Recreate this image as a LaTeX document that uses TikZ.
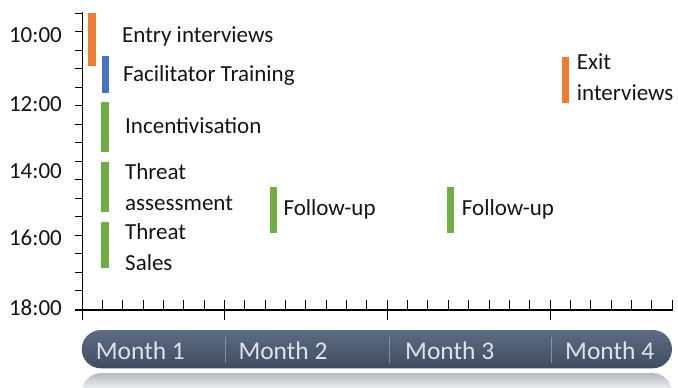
\documentclass[tikz,border=0pt]{standalone}
\usepackage{fontspec}
\setmainfont{Carlito}
\usepackage{tikz}

\definecolor{entryorange}{RGB}{237,125,49}
\definecolor{trainblue}{RGB}{68,114,196}
\definecolor{taskgreen}{RGB}{112,173,71}
\definecolor{monthtop}{RGB}{94,108,131}
\definecolor{monthbot}{RGB}{62,75,97}
\definecolor{monthtext}{RGB}{222,226,232}
\definecolor{reflgray}{RGB}{178,185,195}
\definecolor{sepgray}{RGB}{130,144,165}

\tikzstyle{bar} = [rectangle, inner sep=0pt, minimum width=8pt, anchor=north west]
\tikzstyle{task} = [inner sep=0pt, anchor=base west, align=left, text=black!92, font=\fontsize{23}{31}\selectfont]
\tikzstyle{hour} = [inner sep=0pt, anchor=base east, text=black!92, font=\fontsize{23}{28}\selectfont]
\tikzstyle{month} = [inner sep=0pt, anchor=base west, text=monthtext, font=\fontsize{25.5}{30}\selectfont]
\tikzstyle{axis} = [line width=1.3pt, black]
\tikzstyle{tick} = [line width=1pt, black]

\begin{document}
\begin{tikzpicture}[x=1pt, y=-1pt]
  \useasboundingbox (0,0) rectangle (678,388);

  % axes
  \coordinate (ytop) at (82.5,12);
  \coordinate (ybot) at (82.5,320);
  \coordinate (xleft) at (75,310);
  \coordinate (xend) at (672.5,310);
  \draw [axis] (ytop) -- (ybot);
  \draw [axis] (xleft) -- (xend);
  \foreach \k in {1,...,16}
    \draw [tick] (75,{309.3-18.5*\k}) -- (82.5,{309.3-18.5*\k});
  \foreach \k in {1,...,29}
    \draw [tick] ({82+20.35*\k},310) -- ({82+20.35*\k},300);
  \foreach \k in {7,15,23}
    \draw [tick] ({82+20.35*\k},300) -- ({82+20.35*\k},320);

  \node (h_10) [hour] at (62,42.7) {10:00};
  \node (h_12) [hour] at (62,111) {12:00};
  \node (h_14) [hour] at (62,178.3) {14:00};
  \node (h_16) [hour] at (62,245) {16:00};
  \node (h_18) [hour] at (62,315) {18:00};

  % activities (two-line labels sit on their last baseline)
  \node (b_1) [bar, fill=entryorange, minimum height=53pt] at (88,13) {};
  \node (t_1) [task] at (122,42) {Entry interviews};
  \node (b_2) [bar, fill=trainblue, minimum width=7pt, minimum height=37pt] at (102,56) {};
  \node (t_2) [task] at (123,81.7) {Facilitator Training};
  \node (b_3) [bar, fill=taskgreen, minimum height=50pt] at (101,101.7) {};
  \node (t_3) [task] at (125,133.3) {Incentivisation};
  \node (b_4) [bar, fill=taskgreen, minimum height=50pt] at (101,161.7) {};
  \node (t_4) [task] at (125,210) {Threat\\assessment};
  \node (b_5) [bar, fill=taskgreen, minimum height=46pt] at (101,221.7) {};
  \node (t_5) [task] at (125,270.7) {Threat\\Sales};
  \node (b_6) [bar, fill=taskgreen, minimum width=7pt, minimum height=46pt] at (270,186.7) {};
  \node (t_6) [task] at (283.3,215) {Follow-up};
  \node (b_7) [bar, fill=taskgreen, minimum width=7pt, minimum height=46pt] at (447,186.7) {};
  \node (t_7) [task] at (461.7,215) {Follow-up};
  \node (b_8) [bar, fill=entryorange, minimum width=7pt, minimum height=46pt] at (562,56.7) {};
  \node (t_8) [task] at (576.7,100.7) {Exit\\interviews};

  % month band and its reflection
  \begin{scope}
    \clip (0,0) rectangle (678,388);
    \shade [top color=reflgray, bottom color=white, middle color=white, rounded corners=19.5pt] (81.7,373) rectangle (672,412);
  \end{scope}
  \shade [top color=monthtop, bottom color=monthbot, rounded corners=19.3pt] (81.7,330) rectangle (672,368.3);
  \draw [sepgray, line width=0.8pt] (225.7,337) -- (225.7,362.7);
  \draw [sepgray, line width=0.8pt] (389.5,337) -- (389.5,362.7);
  \draw [sepgray, line width=0.8pt] (551,337) -- (551,362.7);
  \node (m_1) [month] at (95.7,359.3) {Month 1};
  \node (m_2) [month] at (238.3,359.3) {Month 2};
  \node (m_3) [month] at (405,359.3) {Month 3};
  \node (m_4) [month] at (565,359.3) {Month 4};
\end{tikzpicture}
\end{document}
